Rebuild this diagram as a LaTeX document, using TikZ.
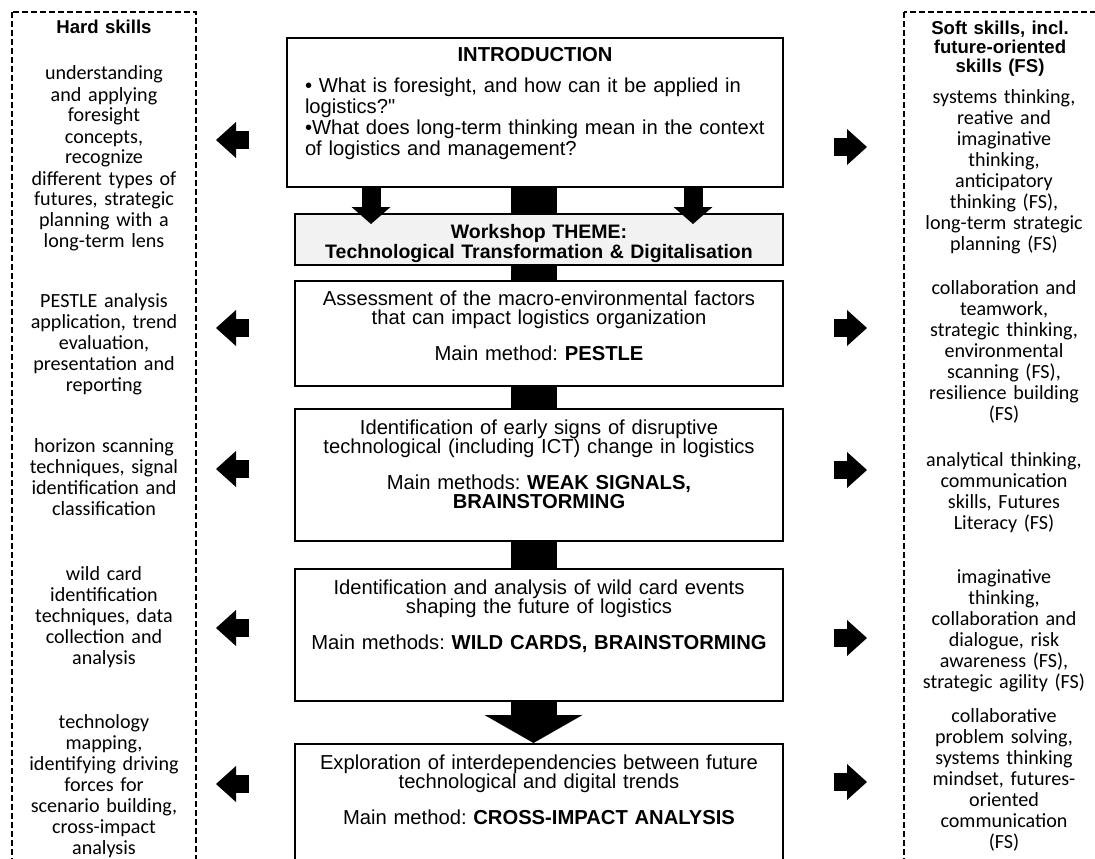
\documentclass[tikz,border=0pt]{standalone}
\usepackage{fontspec}
\setmainfont{Liberation Sans}
\newfontfamily\skillfont{Carlito}
\usepackage{tikz}
\usetikzlibrary{arrows.meta,positioning}
\definecolor{themegray}{HTML}{F2F2F2}
\frenchspacing

\begin{document}
\begin{tikzpicture}[x=1pt,y=-1pt]
  \tikzset{stagebox/.style={draw, line width=2pt, anchor=north, inner xsep=10pt, inner ysep=0pt, text width=468pt, align=center, font=\fontsize{20.2}{19.5}\selectfont, text height=25pt, text depth=107pt}}
  \tikzset{panel/.style={draw, line width=1.8pt, dash pattern=on 6pt off 3pt}}
  \tikzset{skilltext/.style={anchor=base, inner sep=0pt, text width=200pt, align=center, font=\skillfont\fontsize{20.1}{21}\selectfont}}
  \tikzset{skillhead/.style={anchor=base, inner sep=0pt, text width=200pt, align=center, font=\bfseries\fontsize{18.6}{19}\selectfont}}
  \tikzset{bar/.style={line width=46pt}}
  \tikzset{downarrow/.style={line width=19pt, -{Triangle[length=17pt, width=39pt, line width=0pt]}}}
  \tikzset{bigarrow/.style={line width=46pt, -{Triangle[length=28pt, width=98pt, line width=0pt]}}}
  \tikzset{pointer/.style={line width=18pt, -{Triangle[length=20pt, width=36pt, line width=0pt]}}}
  \useasboundingbox (0,0) rectangle (1095,859);
  \clip (0,0) rectangle (1095,859);

  % skill panels
  \draw[panel] (12,12) rectangle (196,880);
  \draw[panel] (904,12) rectangle (1104,880);

  % workshop stages
  \node[stagebox, fill=themegray, text height=24.5pt, text depth=26.5pt, font=\bfseries\fontsize{19.5}{20}\selectfont] (theme) at (539,213) {Workshop THEME:\\Technological Transformation \& Digitalisation};
  \node[stagebox, above=25pt of theme, xshift=-4pt, inner xsep=18pt, text width=460pt, align=left, text height=24pt, text depth=125pt, font=\fontsize{20.2}{21}\selectfont] (intro) {\makebox[\linewidth]{\textbf{INTRODUCTION}}\\[10pt]
    • What is foresight, and how can it be applied in\\
    logistics?\textquotedbl\\
    •What does long-term thinking mean in the context\\
    of logistics and management?};
  \node[stagebox, below=14pt of theme, text height=24pt, text depth=81pt] (pestle) {Assessment of the macro-environmental factors\\that can impact logistics organization\\[16pt]Main method: \textbf{PESTLE}};
  \node[stagebox, below=21pt of pestle] (signals) {Identification of early signs of disruptive\\technological (including ICT) change in logistics\\[16pt]Main methods: \textbf{WEAK SIGNALS,}\\\textbf{BRAINSTORMING}};
  \node[stagebox, below=26pt of signals] (wildcards) {Identification and analysis of wild card events\\shaping the future of logistics\\[16pt]Main methods: \textbf{WILD CARDS, BRAINSTORMING}};
  \node[stagebox, below=41pt of wildcards] (crossimpact) {Exploration of interdependencies between future\\technological and digital trends\\[16pt]Main method: \textbf{CROSS-IMPACT ANALYSIS}};

  % hard skills
  \node[skillhead] (hardhead) at (104,34) {Hard skills};
  \node[skilltext] (hard1) at (104,80) {understanding\\and applying\\foresight\\concepts,\\recognize\\different types of\\futures, strategic\\planning with a\\long-term lens};
  \node[skilltext] (hard2) at (104,307) {PESTLE analysis\\application, trend\\evaluation,\\presentation and\\reporting};
  \node[skilltext] (hard3) at (104,452) {horizon scanning\\techniques, signal\\identification and\\classification};
  \node[skilltext] (hard4) at (104,580) {wild card\\identification\\techniques, data\\collection and\\analysis};
  \node[skilltext] (hard5) at (104,728) {technology\\mapping,\\identifying driving\\forces for\\scenario building,\\cross-impact\\analysis};

  % soft skills
  \node[skillhead] (softhead) at (1000,35) {Soft skills, incl.\\future-oriented\\skills (FS)};
  \node[skilltext] (soft1) at (1004,103) {systems thinking,\\reative and\\imaginative\\thinking,\\anticipatory\\thinking (FS),\\long-term strategic\\planning (FS)};
  \node[skilltext] (soft2) at (1004,294) {collaboration and\\teamwork,\\strategic thinking,\\environmental\\scanning (FS),\\resilience building\\(FS)};
  \node[skilltext] (soft3) at (1004,466) {analytical thinking,\\communication\\skills, Futures\\Literacy (FS)};
  \node[skilltext] (soft4) at (1004,583) {imaginative\\thinking,\\collaboration and\\dialogue, risk\\awareness (FS),\\strategic agility (FS)};
  \node[skilltext] (soft5) at (1004,722) {collaborative\\problem solving,\\systems thinking\\mindset, futures-\\oriented\\communication\\(FS)};

  % flow between stages
  \draw[bar] ([xshift=-1.5pt]intro.south) -- ([xshift=-5.5pt]theme.north);
  \draw[downarrow] ([xshift=-164pt]intro.south) -- ([xshift=-168pt,yshift=-11pt]theme.north);
  \draw[downarrow] ([xshift=158pt]intro.south) -- ([xshift=154pt,yshift=-11pt]theme.north);
  \draw[bar] ([xshift=-5.5pt]theme.south) -- ([xshift=-5.5pt]pestle.north);
  \draw[bar] ([xshift=-5.5pt]pestle.south) -- ([xshift=-5.5pt]signals.north);
  \draw[bar] ([xshift=-5.5pt]signals.south) -- ([xshift=-5.5pt]wildcards.north);
  \draw[bigarrow] ([xshift=-5.5pt]wildcards.south) -- ([xshift=-5.5pt]crossimpact.north);

  % pointers to the skill panels
  \foreach \stage/\lx/\ly/\ry in {intro/-37/-27.5/-34.5, pestle/-45/5.5/5.5, signals/-45/6/5, wildcards/-45/7/-3, crossimpact/-45/26/28}{
    \draw[pointer] ([shift={(\lx pt,\ly pt)}]\stage.west) -- ++(-33pt,0);
    \draw[pointer] ([shift={(50pt,\ry pt)}]\stage.east) -- ++(33pt,0);
  }
\end{tikzpicture}
\end{document}
